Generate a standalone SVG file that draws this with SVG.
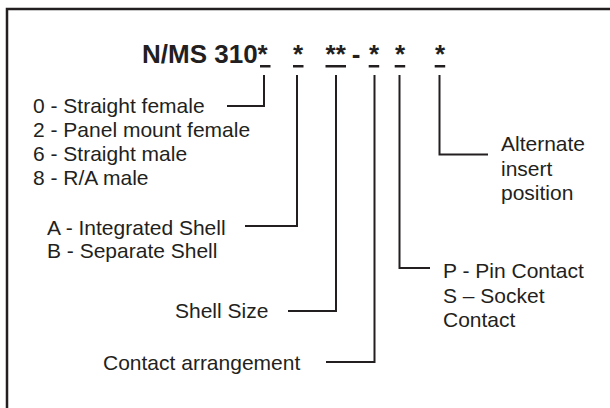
<svg xmlns="http://www.w3.org/2000/svg" width="610" height="408" viewBox="0 0 610 408">
<style>
text{font-family:"Liberation Sans",Arial,sans-serif;fill:#231f20}
.t{font-size:26px;font-weight:bold}
.l{font-size:21px}
.c{fill:none;stroke:#231f20;stroke-width:2}
.u{fill:#231f20}
</style>
<rect width="610" height="408" fill="#fff"/>
<path d="M7,408 V9 H610" fill="none" stroke="#231f20" stroke-width="2.5"/>
<g id="code">
<text class="t" x="142" y="62.5">N/MS 310*</text>
<text class="t" x="298" y="62.5" text-anchor="middle">*</text>
<text class="t" x="335.7" y="62.5" text-anchor="middle">**</text>
<text class="t" x="356" y="62.5" text-anchor="middle">-</text>
<text class="t" x="374" y="62.5" text-anchor="middle">*</text>
<text class="t" x="400" y="62.5" text-anchor="middle">*</text>
<text class="t" x="440" y="62.5" text-anchor="middle">*</text>
<rect class="u" x="260" y="65" width="10.5" height="2.5"/>
<rect class="u" x="293" y="65" width="10.5" height="2.5"/>
<rect class="u" x="325.5" y="65" width="20.5" height="2.5"/>
<rect class="u" x="368.7" y="65" width="10.5" height="2.5"/>
<rect class="u" x="394.7" y="65" width="10.5" height="2.5"/>
<rect class="u" x="434.7" y="65" width="10.5" height="2.5"/>
</g>
<g id="connectors">
<path class="c" d="M264,75 V106 H227"/>
<path class="c" d="M297,75 V226 H245"/>
<path class="c" d="M336,75 V311 H288"/>
<path class="c" d="M374.5,75 V362 H326"/>
<path class="c" d="M399.5,75 V268 H430"/>
<path class="c" d="M439.5,75 V154.5 H488"/>
</g>
<g id="type">
<text class="l" x="33" y="113">0 - Straight female</text>
<text class="l" x="33" y="137">2 - Panel mount female</text>
<text class="l" x="33" y="161">6 - Straight male</text>
<text class="l" x="33" y="185">8 - R/A male</text>
</g>
<g id="shell">
<text class="l" x="47" y="234.5">A - Integrated Shell</text>
<text class="l" x="47" y="258">B - Separate Shell</text>
</g>
<g id="size">
<text class="l" x="175" y="317.5">Shell Size</text>
</g>
<g id="arrangement">
<text class="l" x="103" y="370">Contact arrangement</text>
</g>
<g id="contact">
<text class="l" x="443" y="278">P - Pin Contact</text>
<text class="l" x="443" y="302.5">S – Socket</text>
<text class="l" x="443" y="327">Contact</text>
</g>
<g id="insert">
<text class="l" x="501" y="151">Alternate</text>
<text class="l" x="501" y="175.5">insert</text>
<text class="l" x="501" y="200">position</text>
</g>
</svg>
